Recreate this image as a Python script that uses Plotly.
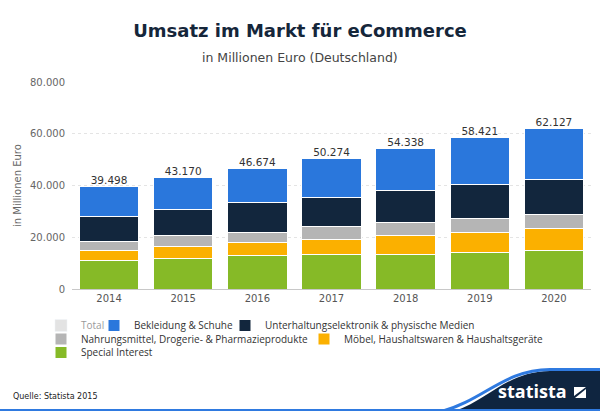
import plotly.graph_objects as go

years = ["2014", "2015", "2016", "2017", "2018", "2019", "2020"]
totals = [39498, 43170, 46674, 50274, 54338, 58421, 62127]
special_interest = [10900, 11900, 12800, 13200, 13500, 14000, 14700]
moebel = [4000, 4700, 5300, 6100, 7100, 7900, 8500]
nahrungsmittel = [3500, 4200, 3900, 4800, 5100, 5400, 5700]
unterhaltung = [9800, 10100, 11300, 11200, 12300, 13200, 13500]
bekleidung = [11298, 12270, 13374, 14974, 16338, 17921, 19727]

names = {
    "total": "Total",
    "bek": "Bekleidung & Schuhe",
    "unt": "Unterhaltungselektronik & physische Medien",
    "nah": "Nahrungsmittel, Drogerie- & Pharmazieprodukte",
    "moe": "Möbel, Haushaltswaren & Haushaltsgeräte",
    "spe": "Special Interest",
}
colors = {
    "total": "#c8c8c8",
    "bek": "#2a77dc",
    "unt": "#12263d",
    "nah": "#b5b5b5",
    "moe": "#fbb000",
    "spe": "#86ba27",
}

W_, H_ = 600, 411
L, R, T, B = 72, 9, 82, 122
PW, PH = W_ - L - R, H_ - T - B


def px(x):
    return (x - L) / PW


def py(y):
    return (H_ - B - y) / PH


FONT = "DejaVu Sans"
LFONT = "Open Sans"

fig = go.Figure()

stack = [
    ("spe", special_interest, "legend6"),
    ("moe", moebel, "legend5"),
    ("nah", nahrungsmittel, "legend4"),
    ("unt", unterhaltung, "legend3"),
    ("bek", bekleidung, "legend2"),
]
for key, vals, lg in stack:
    fig.add_trace(go.Bar(
        x=years, y=vals, name=names[key], legend=lg,
        marker=dict(color=colors[key], line=dict(color="white", width=1)),
        hoverinfo="skip",
    ))

fig.add_trace(go.Bar(
    x=years, y=totals, name=names["total"], legend="legend",
    marker=dict(color=colors["total"]), visible="legendonly",
))

fig.add_trace(go.Scatter(
    x=years, y=totals, mode="text", text=[f"{v:,}".replace(",", ".") for v in totals],
    textposition="top center", textfont=dict(size=10.5, color="#333333", family=FONT),
    showlegend=False, cliponaxis=False, hoverinfo="skip",
))

legend_pos = {
    "legend": (61, 325.5),
    "legend2": (114, 325.5),
    "legend3": (245, 325.5),
    "legend4": (61, 339),
    "legend5": (324, 339),
    "legend6": (61, 352.5),
}
OFFX = 20
legend_layout = {}
for lg, (x, y) in legend_pos.items():
    legend_layout[lg] = dict(
        x=px(x - OFFX), y=py(y), xanchor="left", yanchor="middle",
        orientation="h", bgcolor="rgba(0,0,0,0)", borderwidth=0,
        font=dict(size=10, color="#333333", family=LFONT),
        tracegroupgap=0, itemclick=False, itemdoubleclick=False,
    )

shapes = []


def P(x, y):
    return f"{px(x):.5f},{py(y):.5f}"


wave_fill = (f"M {P(452, 412)} C {P(490, 400)} {P(505, 372)} {P(550, 371)} "
             f"L {P(601, 371)} L {P(601, 412)} Z")
shapes.append(dict(type="path", xref="paper", yref="paper", path=wave_fill,
                   fillcolor="#0f2540", line=dict(width=0), layer="above"))
wave_line = (f"M {P(440, 412)} C {P(485, 400)} {P(503, 370)} {P(550, 369.5)} "
             f"L {P(601, 369.5)}")
shapes.append(dict(type="path", xref="paper", yref="paper", path=wave_line,
                   line=dict(color="#2f7ae0", width=3), layer="above"))
shapes.append(dict(type="line", xref="paper", yref="paper",
                   x0=px(0), x1=px(600), y0=py(410), y1=py(410),
                   line=dict(color="#2f7ae0", width=2), layer="above"))
icon = f"M {P(574, 387)} L {P(586, 387)} L {P(574, 396)} Z"
icon2 = f"M {P(586, 389)} L {P(586, 398)} L {P(575, 398)} Z"
for pth in (icon, icon2):
    shapes.append(dict(type="path", xref="paper", yref="paper", path=pth,
                       fillcolor="white", line=dict(width=0), layer="above"))

annotations = [
    dict(text="in Millionen Euro (Deutschland)", x=px(300), y=py(58), xref="paper", yref="paper",
         xanchor="center", yanchor="middle", showarrow=False,
         font=dict(size=12.5, color="#444444", family=FONT)),
    dict(text="in Millionen Euro", x=px(17), y=py(186), xref="paper", yref="paper",
         xanchor="center", yanchor="middle", showarrow=False, textangle=-90,
         font=dict(size=10, color="#666666", family=FONT)),
    dict(text="Quelle: Statista 2015", x=px(11), y=py(396), xref="paper", yref="paper",
         xanchor="left", yanchor="middle", showarrow=False,
         font=dict(size=8, color="#222222", family=FONT)),
    dict(text="<b>statista</b>", x=px(569), y=py(391), xref="paper", yref="paper",
         xanchor="right", yanchor="middle", showarrow=False,
         font=dict(size=18, color="white", family="Open Sans")),
]

fig.update_layout(
    width=W_, height=H_,
    margin=dict(l=L, r=R, t=T, b=B, autoexpand=False),
    paper_bgcolor="white", plot_bgcolor="white",
    barmode="stack", bargap=0.197,
    separators=",.",
    title=dict(text="<b>Umsatz im Markt für eCommerce</b>", x=0.5, xanchor="center",
               y=1 - 31 / H_, yanchor="middle",
               font=dict(size=18, color="#15263a", family=FONT)),
    font=dict(family=FONT),
    xaxis=dict(showline=True, linecolor="#c8c8c8", linewidth=1, ticks="",
               tickfont=dict(size=10, color="#555555", family=FONT), showgrid=False),
    yaxis=dict(range=[0, 80000], tickvals=[0, 20000, 40000, 60000, 80000],
               tickformat=",.0f", showgrid=True, gridcolor="#e4e4e4", griddash="dot",
               zeroline=False, ticks="", ticklabelstandoff=6,
               tickfont=dict(size=10, color="#666666", family=FONT)),
    shapes=shapes,
    annotations=annotations,
    showlegend=True,
    **legend_layout,
)

fig.write_html("out.html", config={"displayModeBar": False},
               post_script="document.body.style.margin='0';")
